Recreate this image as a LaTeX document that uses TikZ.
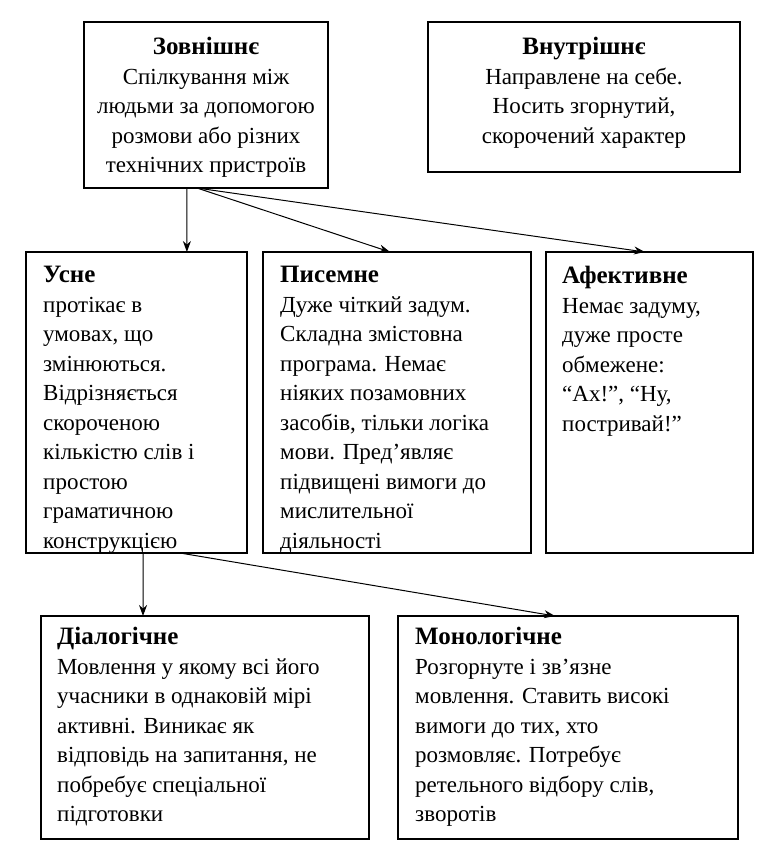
\documentclass[tikz,border=0pt]{standalone}
\usepackage{fontspec}
\setmainfont{Liberation Serif}
\usetikzlibrary{arrows.meta,calc}
\newcommand{\hd}[1]{{\fontsize{25}{29.5}\selectfont\textbf{#1}}}
\begin{document}
\begin{tikzpicture}[x=1pt,y=-1pt,
  box/.style={draw,line width=1.2pt,anchor=north west,inner sep=0pt,outer sep=0pt},
  ctext/.style={anchor=north,align=center,inner sep=0pt,font=\fontsize{23}{29.5}\selectfont},
  ltext/.style={anchor=north west,align=left,inner sep=0pt,font=\fontsize{23}{29.5}\selectfont},
  arr/.style={-{Stealth[length=11pt,width=8pt]},line width=1pt}]
\useasboundingbox (0,0) rectangle (762,862);
% boxes
\node[box,minimum width=244pt,minimum height=166pt] (zov) at (84,22) {};
\node[box,minimum width=312pt,minimum height=150pt] (vnu) at (428,22) {};
\node[box,minimum width=221pt,minimum height=301pt] (usne) at (26,252) {};
\node[box,minimum width=268pt,minimum height=301pt] (pys) at (263,252) {};
\node[box,minimum width=207pt,minimum height=301pt] (afe) at (546,252) {};
\node[box,minimum width=328pt,minimum height=223pt] (dia) at (41,616) {};
\node[box,minimum width=340pt,minimum height=223pt] (mono) at (398,616) {};
% texts
\node[ctext] (zovt) at (206,37) {\hd{Зовнішнє}\\Спілкування між\\людьми за допомогою\\розмови або різних\\технічних пристроїв};
\node[ctext] (vnut) at (584,37) {\hd{Внутрішнє}\\Направлене на себе.\\Носить згорнутий,\\скорочений характер};
\node[ltext] (usnet) at (43,266) {\hd{Усне}\\протікає в\\умовах, що\\змінюються.\\Відрізняється\\скороченою\\кількістю слів і\\простою\\граматичною\\конструкцією};
\node[ltext] (pyst) at (280,266) {\hd{Писемне}\\Дуже чіткий задум.\\Складна змістовна\\програма. Немає\\ніяких позамовних\\засобів, тільки логіка\\мови. Пред’являє\\підвищені вимоги до\\мислительної\\діяльності};
\node[ltext] (afet) at (562,266) {\hd{Афективне}\\Немає задуму,\\дуже просте\\обмежене:\\“Ах!”, “Ну,\\постривай!”};
\node[ltext] (diat) at (57,627) {\hd{Діалогічне}\\Мовлення у якому всі його\\учасники в однаковій мірі\\активні. Виникає як\\відповідь на запитання, не\\побребує спеціальної\\підготовки};
\node[ltext] (monot) at (415,627) {\hd{Монологічне}\\Розгорнуте і зв’язне\\мовлення. Ставить високі\\вимоги до тих, хто\\розмовляє. Потребує\\ретельного відбору слів,\\зворотів};
% arrows
\draw[arr] ($(zov.south west)!0.422!(zov.south east)$) -- ($(usne.north west)!0.728!(usne.north east)$);
\draw[arr] ($(zov.south west)!0.463!(zov.south east)$) -- ($(pys.north west)!0.474!(pys.north east)$);
\draw[arr] ($(zov.south west)!0.463!(zov.south east)$) -- ($(afe.north west)!0.478!(afe.north east)$);
\draw[arr] ($(usne.south west)!0.53!(usne.south east)$) -- ($(dia.north west)!0.311!(dia.north east)$);
\draw[arr] ($(usne.south west)!0.697!(usne.south east)$) -- ($(mono.north west)!0.462!(mono.north east)$);
\end{tikzpicture}
\end{document}
